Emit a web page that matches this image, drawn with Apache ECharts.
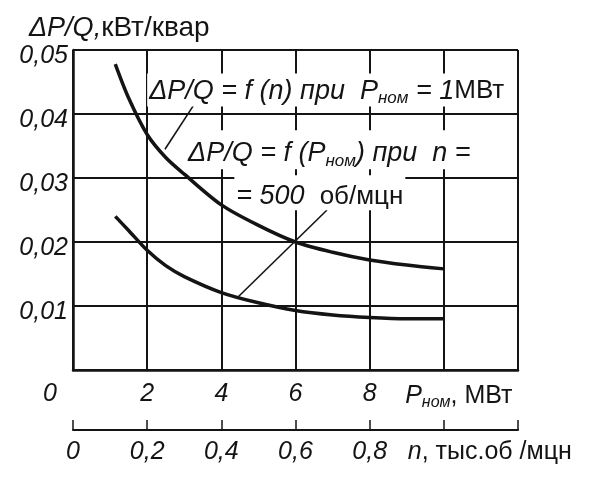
<!DOCTYPE html>
<html>
<head>
<meta charset="utf-8">
<script src="https://cdn.jsdelivr.net/npm/echarts@6/dist/echarts.min.js"></script>
<style>
  html, body { margin: 0; background: #fff; }
  #chart { width: 591px; height: 481px; }
</style>
</head>
<body>
<div id="chart"></div>
<script>
  // P_ном, МВт (нижняя шкала) — общие точки обеих кривых
  const pNom = [1.14, 1.5, 2, 2.5, 3, 4, 5, 6, 7, 8, 9, 10]
  // ΔP/Q = f(n) при P_ном = 1 МВт
  const dpqN = [0.0478, 0.0425, 0.0368, 0.0332, 0.0306, 0.0258, 0.0226, 0.0200, 0.0184, 0.0172, 0.0164, 0.0158]
  // ΔP/Q = f(P_ном) при n = 500 об/мин
  const dpqP = [0.0240, 0.0218, 0.0187, 0.0163, 0.0146, 0.0121, 0.0105, 0.0093, 0.0086, 0.0082, 0.0080, 0.0080]

  const yTicks = [0, 0.01, 0.02, 0.03, 0.04, 0.05]
  const pTicks = [0, 2, 4, 6, 8, 10, 12]
  const nTicks = [0, 0.2, 0.4, 0.6, 0.8, 1.0, 1.2]

  // подписи кривых и выноски (в координатах данных)
  const noteN = [2.0, 0.04375]
  const noteP1 = [3.05, 0.0344]
  const noteP2 = [4.35, 0.0277]
  const leaderN = [[3.29, 0.0417], [2.48, 0.0345]]
  const leaderP = [[6.85, 0.025], [4.45, 0.0114]]

  const FONT = 'Liberation Sans'
  const INK = '#141414'

  const rich = {
    i: { fontFamily: FONT, fontStyle: 'italic', fontWeight: 'normal', fontSize: 25, color: INK },
    s: { fontFamily: FONT, fontStyle: 'italic', fontWeight: 'normal', fontSize: 16, color: INK, padding: [13, 0, 0, 0] },
    u: { fontFamily: FONT, fontWeight: 'normal', fontSize: 25, color: INK },
  }
  // заголовок оси Y
  const titleRich = {
    i: { fontFamily: FONT, fontStyle: 'italic', fontWeight: 'normal', fontSize: 27, color: INK },
    u: { fontFamily: FONT, fontWeight: 'normal', fontSize: 28, color: INK },
  }
  // подписи на поле графика — чуть крупнее
  const noteRich = {
    i: { fontFamily: FONT, fontStyle: 'italic', fontSize: 27, color: INK },
    s: { fontFamily: FONT, fontStyle: 'italic', fontSize: 17, color: INK, padding: [14, 0, 0, 0] },
    u: { fontFamily: FONT, fontSize: 26, color: INK },
  }

  const comma = (v) => String(v).replace('.', ',')

  const chart = echarts.init(document.getElementById('chart'))

  const option = {
    animation: false,
    backgroundColor: '#fff',
    title: {
      text: '{i|ΔP/Q,}{u|кВт/квар}',
      left: 24,
      top: 9,
      textStyle: { fontWeight: 'normal', rich: titleRich },
    },
    grid: { left: 73, right: 73, top: 50, bottom: 111 },
    xAxis: [
      {
        type: 'value',
        min: pTicks[0],
        max: pTicks[pTicks.length - 1],
        interval: 2,
        position: 'bottom',
        axisLine: { show: true, onZero: false, lineStyle: { color: INK, width: 2.5 } },
        axisTick: { show: false },
        splitLine: { show: true, lineStyle: { color: INK, width: 2 } },
        axisLabel: {
          margin: 12,
          color: INK,
          formatter: (v) => {
            if (v === 0) return '{o|0}'
            if (v === 10) return '{p|P}{s|ном}{u|, МВт}'
            if (v === 12) return ''
            return '{i|' + v + '}'
          },
          rich: Object.assign({}, rich, {
            o: { fontFamily: FONT, fontStyle: 'italic', fontSize: 25, color: INK, padding: [0, 46, 0, 0] },
            p: { fontFamily: FONT, fontStyle: 'italic', fontSize: 25, color: INK, padding: [0, 0, 0, 30] },
          }),
        },
      },
      {
        type: 'value',
        min: nTicks[0],
        max: nTicks[nTicks.length - 1],
        interval: 0.2,
        position: 'bottom',
        offset: 60,
        axisLine: { show: true, onZero: false, lineStyle: { color: INK, width: 2 } },
        axisTick: { show: true, inside: true, length: 10, lineStyle: { color: INK, width: 1.5 } },
        splitLine: { show: false },
        axisLabel: {
          margin: 10,
          color: INK,
          formatter: (v) => {
            const r = Math.round(v * 10) / 10
            if (r === 1) return '{m|n}{u|, тыс.об /мцн}'
            if (r === 1.2) return ''
            return '{i|' + comma(r) + '}'
          },
          rich: Object.assign({}, rich, {
            m: { fontFamily: FONT, fontStyle: 'italic', fontSize: 25, color: INK, padding: [0, 0, 0, 92] },
          }),
        },
      },
    ],
    yAxis: {
      type: 'value',
      min: yTicks[0],
      max: yTicks[yTicks.length - 1],
      interval: 0.01,
      axisLine: { show: true, lineStyle: { color: INK, width: 2.5 } },
      axisTick: { show: false },
      splitLine: { show: true, lineStyle: { color: INK, width: 2 } },
      axisLabel: {
        margin: 5,
        formatter: (v) => (v === 0 ? '' : '{i|' + comma(v.toFixed(2)) + '}'),
        rich: Object.assign({}, rich, {
          i: { fontFamily: FONT, fontStyle: 'italic', fontSize: 25, color: INK, padding: [12, 0, 0, 0] },
        }),
      },
    },
    series: [
      {
        name: 'f(n)',
        type: 'line',
        xAxisIndex: 0,
        data: pNom.map((x, i) => [x, dpqN[i]]),
        smooth: 0.3,
        showSymbol: false,
        lineStyle: { color: INK, width: 3.5 },
        silent: true,
        markPoint: {
          symbol: 'circle',
          symbolSize: 0,
          label: {
            show: true,
            position: 'right',
            distance: 0,
            backgroundColor: '#fff',
            padding: [2, 2, 0, 2],
            formatter: '{i|ΔP/Q = f (n) при  P}{s|ном}{i| = 1}{u|МВт}',
            rich: noteRich,
          },
          data: [{ coord: noteN }],
        },
        markLine: {
          symbol: 'none',
          silent: true,
          label: { show: false },
          lineStyle: { color: INK, width: 1.6, type: 'solid' },
          data: [[{ coord: leaderN[0] }, { coord: leaderN[1] }]],
        },
      },
      {
        name: 'f(P)',
        type: 'line',
        xAxisIndex: 0,
        data: pNom.map((x, i) => [x, dpqP[i]]),
        smooth: 0.3,
        showSymbol: false,
        lineStyle: { color: INK, width: 3.5 },
        silent: true,
        markPoint: {
          symbol: 'circle',
          symbolSize: 0,
          label: {
            show: true,
            position: 'right',
            distance: 0,
            backgroundColor: '#fff',
            padding: [8, 2, 0, 2],
            rich: noteRich,
          },
          data: [
            { coord: noteP1, label: { formatter: '{i|ΔP/Q = f (P}{s|ном}{i|) при  n =}' } },
            { coord: noteP2, label: { formatter: '{i|= 500  }{u|об/мцн}' } },
          ],
        },
        markLine: {
          symbol: 'none',
          silent: true,
          label: { show: false },
          lineStyle: { color: INK, width: 1.6, type: 'solid' },
          data: [[{ coord: leaderP[0] }, { coord: leaderP[1] }]],
        },
      },
    ],
  }

  chart.setOption(option)
</script>
</body>
</html>
